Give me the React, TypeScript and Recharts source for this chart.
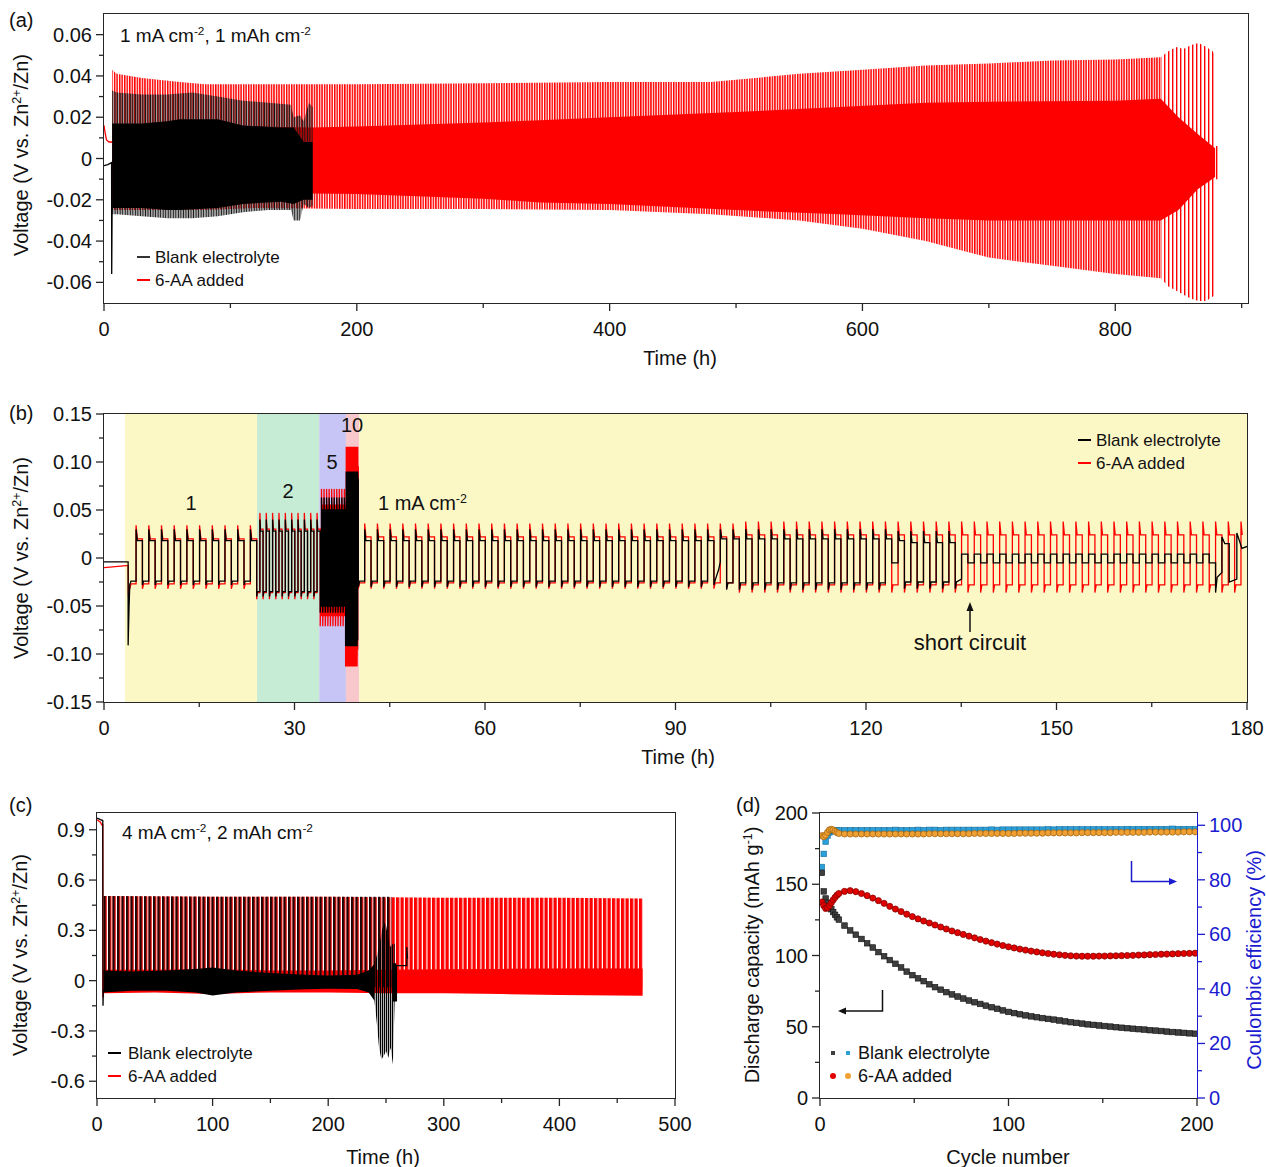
import React from "react";
import { ComposedChart, Area, Line, Scatter, XAxis, YAxis, ReferenceArea } from "recharts";

const FONT = "'Liberation Sans', Arial, Helvetica, sans-serif";
const AXIS = "#262626";
const BLUE = "#1b1bd0";
const RED = "#ff0000";

// ---------- panel (a): 1 mA cm-2, 1 mAh cm-2 (envelopes) ----------
const aRedOuterT = [6.5, 10, 30, 60, 80, 120, 200, 300, 400, 480, 550, 600, 650, 700, 750, 800, 836];
const aRedOuterHi = [0.043, 0.041, 0.039, 0.037, 0.036, 0.036, 0.036, 0.0365, 0.037, 0.037, 0.041, 0.043, 0.045, 0.046, 0.0475, 0.048, 0.049];
const aRedOuterLo = [-0.025, -0.025, -0.025, -0.025, -0.025, -0.024, -0.0245, -0.0245, -0.025, -0.027, -0.03, -0.034, -0.04, -0.048, -0.052, -0.056, -0.058];

const aRedEndT = [836, 842, 848, 854, 860, 866, 872, 877, 879, 879.6, 882];
const aRedEndHi = [0.049, 0.052, 0.054, 0.053, 0.055, 0.056, 0.054, 0.052, 0.05, 0.006, 0.006];
const aRedEndLo = [-0.058, -0.062, -0.064, -0.066, -0.068, -0.069, -0.069, -0.067, -0.066, -0.01, -0.01];

const aRedInnerT = [6.5, 30, 80, 165, 200, 300, 345, 400, 500, 582, 650, 700, 800, 836, 850, 865, 879];
const aRedInnerHi = [0.016, 0.016, 0.016, 0.015, 0.0155, 0.0175, 0.0185, 0.02, 0.0225, 0.025, 0.027, 0.0275, 0.028, 0.029, 0.02, 0.012, 0.005];
const aRedInnerLo = [-0.018, -0.018, -0.018, -0.017, -0.0172, -0.0195, -0.0213, -0.022, -0.025, -0.027, -0.029, -0.03, -0.03, -0.03, -0.025, -0.015, -0.009];

const aRedStartT = [0, 1, 2, 4, 6.5];
const aRedStartV = [0.016, 0.012, 0.009, 0.008, 0.008];

const aBlankOuterT = [6.5, 10, 30, 50, 70, 90, 110, 130, 148, 150, 155, 158, 162, 165];
const aBlankOuterHi = [0.033, 0.032, 0.031, 0.031, 0.032, 0.03, 0.028, 0.027, 0.026, 0.02, 0.021, 0.018, 0.027, 0.025];
const aBlankOuterLo = [-0.027, -0.027, -0.028, -0.029, -0.029, -0.028, -0.026, -0.025, -0.025, -0.03, -0.03, -0.022, -0.024, -0.023];

const aBlankInnerT = [6.5, 30, 50, 60, 90, 110, 140, 150, 158, 165];
const aBlankInnerHi = [0.017, 0.017, 0.018, 0.019, 0.019, 0.016, 0.015, 0.015, 0.008, 0.008];
const aBlankInnerLo = [-0.024, -0.024, -0.025, -0.025, -0.024, -0.022, -0.021, -0.022, -0.02, -0.02];

const aBlankStartT = [0, 3, 6, 6.1, 6.4, 6.5];
const aBlankStartV = [-0.0035, -0.003, -0.002, -0.056, -0.025, -0.024];

const aTicksX = [0, 100, 200, 300, 400, 500, 600, 700, 800, 900];
const aMajorX = [0, 200, 400, 600, 800];
const aTicksY = [-0.06, -0.05, -0.04, -0.03, -0.02, -0.01, 0, 0.01, 0.02, 0.03, 0.04, 0.05, 0.06];
const aMajorY = [-0.06, -0.04, -0.02, 0, 0.02, 0.04, 0.06];

// ---------- panel (b): rate test, cycles per regime ----------
// cyc: [from, to, period, lowSpike, lowPlateau, highSpike, highPlateau]
type Piece = { pts?: number[][]; cyc?: number[] };

const bRedPieces: Piece[] = [
  { pts: [[0, -0.01], [3.5, -0.008], [3.8, -0.008], [3.85, -0.04], [4.05, -0.03]] },
  { cyc: [4.05, 24.05, 2, -0.032, -0.027, 0.034, 0.02] },
  { cyc: [24.05, 34.05, 1, -0.043, -0.036, 0.047, 0.03] },
  { cyc: [34.05, 38.05, 0.4, -0.071, -0.06, 0.072, 0.055] },
  { cyc: [38.05, 40.05, 0.2, -0.113, -0.095, 0.116, 0.095] },
  { cyc: [40.05, 100.05, 2, -0.032, -0.026, 0.036, 0.022] },
  { cyc: [100.05, 180.05, 2, -0.036, -0.028, 0.038, 0.024] },
];

const bBlankPieces: Piece[] = [
  { pts: [[0, -0.004], [3.8, -0.004], [3.8, -0.091], [3.95, -0.05], [4.05, -0.03]] },
  { cyc: [4.05, 24.05, 2, -0.028, -0.024, 0.03, 0.018] },
  { cyc: [24.05, 34.05, 1, -0.04, -0.035, 0.04, 0.028] },
  { cyc: [34.05, 38.05, 0.4, -0.057, -0.05, 0.063, 0.05] },
  { cyc: [38.05, 40.05, 0.2, -0.092, -0.085, 0.09, 0.082] },
  { cyc: [40.05, 96.05, 2, -0.03, -0.024, 0.03, 0.018] },
  { pts: [[96.05, -0.028], [96.3, -0.022], [96.8, -0.012], [97.05, -0.004], [97.05, 0.03], [97.3, 0.02], [98.05, 0.02]] },
  { cyc: [98.05, 124.05, 2, -0.033, -0.026, 0.03, 0.02] },
  { pts: [[124.05, -0.005], [125.05, -0.005], [125.05, 0.028], [125.3, 0.018], [126.05, 0.018]] },
  { cyc: [126.05, 134.05, 2, -0.032, -0.025, 0.028, 0.016] },
  { pts: [[134.05, -0.032], [134.25, -0.025], [135.05, -0.022], [135.05, 0.004], [136.05, 0.004]] },
  { cyc: [136.05, 174.05, 2, -0.005, -0.005, 0.004, 0.004] },
  { pts: [[174.05, -0.005], [175.05, -0.005], [175.05, -0.036], [175.3, -0.02], [176.05, -0.015], [176.05, 0.022], [176.5, 0.015], [177.2, 0.015], [177.2, -0.025], [178.4, -0.022], [178.4, 0.026], [179.2, 0.01], [180, 0.012]] },
];

const bBandStart = [3.3, 24.1, 33.9, 38.1, 40.2];
const bBandEnd = [24.1, 33.9, 38.1, 40.2, 180];
const bBandColor = ["#fcf8c6", "#c6ecd6", "#c7c5f6", "#f8c7cb", "#fcf8c6"];

const bTicksX = [0, 15, 30, 45, 60, 75, 90, 105, 120, 135, 150, 165, 180];
const bMajorX = [0, 30, 60, 90, 120, 150, 180];
const bTicksY = [-0.15, -0.125, -0.1, -0.075, -0.05, -0.025, 0, 0.025, 0.05, 0.075, 0.1, 0.125, 0.15];
const bMajorY = [-0.15, -0.1, -0.05, 0, 0.05, 0.1, 0.15];

// ---------- panel (c): 4 mA cm-2, 2 mAh cm-2 ----------
const cRedOuterT = [5.5, 100, 200, 300, 400, 472];
const cRedOuterHi = [0.505, 0.5, 0.5, 0.495, 0.495, 0.49];
const cRedOuterLo = [-0.05, -0.05, -0.05, -0.05, -0.05, -0.05];

const cRedInnerT = [5.5, 50, 100, 150, 200, 250, 300, 350, 400, 472];
const cRedInnerHi = [0.065, 0.065, 0.07, 0.06, 0.06, 0.065, 0.068, 0.07, 0.072, 0.072];
const cRedInnerLo = [-0.075, -0.07, -0.08, -0.07, -0.07, -0.075, -0.075, -0.08, -0.085, -0.09];

const cBlankOuterT = [5.5, 100, 200, 255];
const cBlankOuterHi = [0.505, 0.5, 0.5, 0.5];
const cBlankOuterLo = [-0.04, -0.04, -0.04, -0.04];

const cBlankInnerT = [5.5, 30, 60, 85, 100, 120, 150, 180, 200, 225, 235, 240];
const cBlankInnerHi = [0.06, 0.055, 0.06, 0.07, 0.078, 0.06, 0.045, 0.035, 0.03, 0.035, 0.06, 0.1];
const cBlankInnerLo = [-0.07, -0.06, -0.06, -0.07, -0.088, -0.07, -0.06, -0.052, -0.048, -0.05, -0.07, -0.12];

const cBlankFailT = [240, 242, 244, 246, 248, 250, 252, 254, 256, 257.5];
const cBlankFailHi = [0.1, 0.15, 0.2, 0.28, 0.35, 0.33, 0.25, 0.2, 0.22, 0.22];
const cBlankFailLo = [-0.12, -0.25, -0.4, -0.47, -0.45, -0.42, -0.46, -0.4, -0.5, -0.12];

const cBlankEndT = [256, 256.5, 256.5, 257.5, 257.5, 258.3, 258.3, 259, 259, 268, 268, 268.6];
const cBlankEndV = [0.1, 0.1, -0.12, -0.12, 0.1, 0.1, -0.12, -0.12, 0.09, 0.09, 0.2, 0.13];

const cRedStartT = [0, 3, 4, 5, 5.1, 5.5];
const cRedStartV = [0.96, 0.945, 0.93, 0.93, -0.1, -0.05];
const cBlankStartT = [0, 3, 5, 5.2, 5.5];
const cBlankStartV = [0.97, 0.96, 0.955, -0.15, -0.05];

const cTicksX = [0, 50, 100, 150, 200, 250, 300, 350, 400, 450, 500];
const cMajorX = [0, 100, 200, 300, 400, 500];
const cTicksY = [-0.6, -0.45, -0.3, -0.15, 0, 0.15, 0.3, 0.45, 0.6, 0.75, 0.9];
const cMajorY = [-0.6, -0.3, 0, 0.3, 0.6, 0.9];

// ---------- panel (d): capacity and coulombic efficiency ----------
const dCycles = [1, 2, 3, 4, 5, 6, 7, 8, 9, 10, 13, 16, 19, 22, 25, 28, 31, 34, 37, 40, 43, 46, 49,
  52, 55, 58, 61, 64, 67, 70, 73, 76, 79, 82, 85, 88, 91, 94, 97, 100,
  103, 106, 109, 112, 115, 118, 121, 124, 127, 130, 133, 136, 139, 142, 145, 148, 151, 154, 157, 160,
  163, 166, 169, 172, 175, 178, 181, 184, 187, 190, 193, 196, 199];
const dBlankCap = [158, 145, 140, 137, 134.5, 132.5, 130.5, 128.5, 126.8, 125.2, 121, 117.6, 114.6, 111.6, 108.6, 105.6, 102.4, 99.5, 96.8, 94.2, 91.6, 88.7, 86.2,
  84, 82, 79.8, 77.8, 76, 74.3, 72.7, 71.2, 69.8, 68.4, 67.2, 66, 64.8, 63.7, 62.6, 61.5, 60.4,
  59.6, 58.8, 58, 57.3, 56.7, 56.1, 55.5, 55, 54.4, 53.8, 53.2, 52.7, 52.2, 51.7, 51.3, 50.9, 50.5, 50.1, 49.7, 49.3,
  49, 48.6, 48.3, 48, 47.6, 47.3, 47, 46.6, 46.3, 46, 45.7, 45.4, 45.1];
const dRedCap = [137.5, 135, 133, 133.5, 135, 137, 139, 140.8, 142.3, 143.5, 145, 145.5, 144.8, 143.5, 142, 140.3, 138.5, 136.6, 134.5, 132.6, 130.8, 129, 127.3,
  125.7, 124.2, 122.8, 121.4, 120, 118.6, 117.2, 116, 114.8, 113.6, 112.4, 111.2, 110.1, 109, 108, 107, 106.1,
  105.3, 104.5, 103.8, 103.1, 102.5, 101.9, 101.4, 100.9, 100.5, 100.1, 99.8, 99.6, 99.5, 99.5, 99.5, 99.6, 99.6, 99.7, 99.8, 99.9,
  100, 100.1, 100.3, 100.4, 100.6, 100.7, 100.9, 101, 101.1, 101.3, 101.4, 101.5, 101.6];
const dBlankCE = [84.7, 89.5, 94, 96.2, 97.4, 97.8, 98, 98, 98.1, 98.1, 98.2, 98.2, 98.2, 98.2, 98.2, 98.2, 98.2, 98.2, 98.2, 98.3, 98.2, 98.2, 98.2,
  98.3, 98.2, 98.3, 98.3, 98.2, 98.3, 98.3, 98.3, 98.3, 98.3, 98.3, 98.3, 98.3, 98.4, 98.3, 98.4, 98.4,
  98.4, 98.4, 98.4, 98.4, 98.4, 98.4, 98.5, 98.4, 98.5, 98.5, 98.5, 98.5, 98.5, 98.5, 98.5, 98.5, 98.5, 98.5, 98.5, 98.5,
  98.6, 98.5, 98.6, 98.6, 98.6, 98.6, 98.6, 98.6, 98.7, 98.6, 98.6, 98.6, 98.6];
const dRedCE = [96.2, 95.8, 96.4, 97.4, 98.3, 98.5, 98.3, 97.8, 97.3, 97, 96.8, 96.8, 96.8, 96.8, 96.8, 96.8, 96.8, 96.8, 96.8, 96.8, 96.8, 96.8, 96.8,
  96.8, 96.8, 96.9, 96.9, 96.9, 96.9, 96.9, 96.9, 96.9, 96.9, 97, 97, 97, 97, 97, 97, 97,
  97, 97.1, 97.1, 97.1, 97.1, 97.1, 97.2, 97.2, 97.2, 97.2, 97.2, 97.2, 97.3, 97.3, 97.3, 97.3, 97.3, 97.3, 97.4, 97.4,
  97.4, 97.4, 97.4, 97.4, 97.5, 97.5, 97.5, 97.5, 97.5, 97.5, 97.6, 97.6, 97.6];

const dTicksX = [0, 50, 100, 150, 200];
const dMajorX = [0, 100, 200];
const dTicksL = [0, 25, 50, 75, 100, 125, 150, 175, 200];
const dMajorL = [0, 50, 100, 150, 200];
const dTicksR = [0, 10, 20, 30, 40, 50, 60, 70, 80, 90, 100];
const dMajorR = [0, 20, 40, 60, 80, 100];

// ---------- helpers ----------
const toRange = (ts: number[], lo: number[], hi: number[]) => ts.map((t, i) => ({ t, v: [lo[i], hi[i]] }));
const toPts = (ts: number[], vs: number[]) => ts.map((t, i) => ({ t, v: vs[i] }));

function expand(pieces: Piece[], tMax: number) {
  const out: { t: number; v: number }[] = [];
  for (const p of pieces) {
    if (p.pts) p.pts.forEach(([t, v]) => out.push({ t, v }));
    if (p.cyc) {
      const [from, to, P, ls, lp, hs, hp] = p.cyc;
      const n = Math.round((to - from) / P);
      for (let k = 0; k < n; k++) {
        const t0 = from + k * P;
        out.push(
          { t: t0, v: ls }, { t: t0 + 0.1 * P, v: lp }, { t: t0 + 0.5 * P, v: lp },
          { t: t0 + 0.5 * P, v: hs }, { t: t0 + 0.6 * P, v: hp }, { t: t0 + P, v: hp }
        );
      }
    }
  }
  return out.filter((d) => d.t <= tMax);
}

const isMajor = (majors: number[], v: number) => majors.some((m) => Math.abs(m - v) < 1e-9);

function xTick(bottom: number, majors: number[], fmt: (v: number) => string) {
  return (props: any) => {
    const { x, payload } = props;
    const major = isMajor(majors, payload.value);
    return (
      <g>
        <line x1={x} x2={x} y1={bottom} y2={bottom + (major ? 8 : 5)} stroke={AXIS} strokeWidth={1.3} />
        {major && (
          <text x={x} y={bottom + 26} textAnchor="middle" dominantBaseline="central" fontSize={20} fontFamily={FONT} fill="#111">
            {fmt(payload.value)}
          </text>
        )}
      </g>
    );
  };
}

function yTick(edge: number, majors: number[], fmt: (v: number) => string, side: "left" | "right" = "left", color = AXIS) {
  const dir = side === "left" ? -1 : 1;
  return (props: any) => {
    const { y, payload } = props;
    const major = isMajor(majors, payload.value);
    return (
      <g>
        <line x1={edge} x2={edge + dir * (major ? 8 : 5)} y1={y} y2={y} stroke={color} strokeWidth={1.3} />
        {major && (
          <text x={edge + dir * 12} y={y} textAnchor={side === "left" ? "end" : "start"} dominantBaseline="central" fontSize={20} fontFamily={FONT} fill={side === "left" ? "#111" : color}>
            {fmt(payload.value)}
          </text>
        )}
      </g>
    );
  };
}

const fmt2 = (v: number) => (Math.abs(v) < 1e-9 ? "0" : v.toFixed(2));
const fmt1 = (v: number) => (Math.abs(v) < 1e-9 ? "0" : v.toFixed(1));
const fmt0 = (v: number) => String(Math.round(v));

const Sup = ({ children }: { children: React.ReactNode }) => (
  <span style={{ fontSize: "0.62em", position: "relative", top: "-0.6em" }}>{children}</span>
);

function Txt(props: { x: number; y: number; size?: number; color?: string; mode?: "left" | "center" | "rot"; children: React.ReactNode }) {
  const { x, y, size = 20, color = "#111", mode = "left", children } = props;
  const transform = mode === "rot" ? "translate(-50%,-50%) rotate(-90deg)" : mode === "center" ? "translate(-50%,-50%)" : "translateY(-50%)";
  return (
    <div style={{ position: "absolute", left: x, top: y, transform, fontSize: size, color, whiteSpace: "nowrap", lineHeight: 1, fontFamily: FONT }}>
      {children}
    </div>
  );
}

function Frame(props: { x: number; y: number; w: number; h: number; right?: string }) {
  return (
    <div
      style={{
        position: "absolute", left: props.x - 0.75, top: props.y - 0.75, width: props.w + 1.5, height: props.h + 1.5,
        boxSizing: "border-box", border: `1.5px solid ${AXIS}`, borderRightColor: props.right || AXIS, pointerEvents: "none",
      }}
    />
  );
}

const LegendLine = ({ x, y, color }: { x: number; y: number; color: string }) => (
  <div style={{ position: "absolute", left: x, top: y - 0.75, width: 13, height: 1.5, background: color }} />
);

const VoltTitle = () => (
  <span>
    Voltage (V vs. Zn<Sup>2+</Sup>/Zn)
  </span>
);

const square = (fill: string, stroke: string) => (p: any) =>
  <rect x={p.cx - 2.8} y={p.cy - 2.8} width={5.6} height={5.6} fill={fill} stroke={stroke} strokeWidth={0.6} />;
const circle = (fill: string, stroke: string) => (p: any) =>
  <circle cx={p.cx} cy={p.cy} r={3.1} fill={fill} stroke={stroke} strokeWidth={0.7} />;

export default function App() {
  const bRed = expand(bRedPieces, 180);
  const bBlank = expand(bBlankPieces, 180);
  const dC = (vals: number[]) => dCycles.map((c, i) => ({ c, v: vals[i] }));

  return (
    <div style={{ position: "absolute", left: 0, top: 0, width: 1266, height: 1167, background: "#fff", overflow: "hidden", fontFamily: FONT }}>
      {/* (a) */}
      <div style={{ position: "absolute", left: 0, top: 0 }}>
        <ComposedChart width={1266} height={380} margin={{ top: 14, right: 18, bottom: 47, left: 44 }}>
          <defs>
            <pattern id="aRedS" patternUnits="userSpaceOnUse" width={2.53} height={10}>
              <rect x={0} y={0} width={1.5} height={10} fill={RED} />
            </pattern>
            <pattern id="aRedSparse" patternUnits="userSpaceOnUse" width={4} height={10}>
              <rect x={0} y={0} width={1.4} height={10} fill={RED} />
            </pattern>
            <pattern id="aBlkS" patternUnits="userSpaceOnUse" width={2.53} height={10}>
              <rect x={0.5} y={0} width={1.5} height={10} fill="#151515" />
            </pattern>
          </defs>
          <XAxis dataKey="t" type="number" domain={[0, 905]} ticks={aTicksX} interval={0} allowDataOverflow axisLine={false} tickLine={false} height={30} tick={xTick(303, aMajorX, fmt0)} />
          <YAxis type="number" domain={[-0.07, 0.07]} ticks={aTicksY} interval={0} allowDataOverflow axisLine={false} tickLine={false} width={60} tick={yTick(104, aMajorY, fmt2)} />
          <Area data={toRange(aRedOuterT, aRedOuterLo, aRedOuterHi)} dataKey="v" type="linear" stroke="none" fill="url(#aRedS)" fillOpacity={1} isAnimationActive={false} activeDot={false} />
          <Area data={toRange(aRedEndT, aRedEndLo, aRedEndHi)} dataKey="v" type="linear" stroke="none" fill="url(#aRedSparse)" fillOpacity={1} isAnimationActive={false} activeDot={false} />
          <Area data={toRange(aRedInnerT, aRedInnerLo, aRedInnerHi)} dataKey="v" type="linear" stroke="none" fill={RED} fillOpacity={1} isAnimationActive={false} activeDot={false} />
          <Line data={toPts(aRedStartT, aRedStartV)} dataKey="v" type="linear" stroke={RED} strokeWidth={1.3} dot={false} isAnimationActive={false} />
          <Area data={toRange(aBlankOuterT, aBlankOuterLo, aBlankOuterHi)} dataKey="v" type="linear" stroke="none" fill="url(#aBlkS)" fillOpacity={1} isAnimationActive={false} activeDot={false} />
          <Area data={toRange(aBlankInnerT, aBlankInnerLo, aBlankInnerHi)} dataKey="v" type="linear" stroke="none" fill="#000" fillOpacity={1} isAnimationActive={false} activeDot={false} />
          <Line data={toPts(aBlankStartT, aBlankStartV)} dataKey="v" type="linear" stroke="#000" strokeWidth={1.3} dot={false} isAnimationActive={false} />
        </ComposedChart>
      </div>

      {/* (b) */}
      <div style={{ position: "absolute", left: 0, top: 390 }}>
        <ComposedChart width={1266} height={380} margin={{ top: 24, right: 19, bottom: 38, left: 44 }}>
          <XAxis dataKey="t" type="number" domain={[0, 180]} ticks={bTicksX} interval={0} allowDataOverflow axisLine={false} tickLine={false} height={30} tick={xTick(312, bMajorX, fmt0)} />
          <YAxis type="number" domain={[-0.15, 0.15]} ticks={bTicksY} interval={0} allowDataOverflow axisLine={false} tickLine={false} width={60} tick={yTick(104, bMajorY, fmt2)} />
          {bBandStart.map((s, i) => (
            <ReferenceArea key={i} x1={s} x2={bBandEnd[i]} y1={-0.15} y2={0.15} fill={bBandColor[i]} fillOpacity={1} stroke="none" />
          ))}
          <Line data={bRed} dataKey="v" type="linear" stroke={RED} strokeWidth={1.3} dot={false} isAnimationActive={false} />
          <Line data={bBlank} dataKey="v" type="linear" stroke="#000" strokeWidth={1.3} dot={false} isAnimationActive={false} />
        </ComposedChart>
      </div>

      {/* (c) */}
      <div style={{ position: "absolute", left: 0, top: 780 }}>
        <ComposedChart width={700} height={387} margin={{ top: 33, right: 25, bottom: 39, left: 37 }}>
          <defs>
            <pattern id="cRedS" patternUnits="userSpaceOnUse" width={4.5} height={10}>
              <rect x={0} y={0} width={3.3} height={10} fill={RED} />
            </pattern>
            <pattern id="cBlkS" patternUnits="userSpaceOnUse" width={4.5} height={10}>
              <rect x={0} y={0} width={2.2} height={10} fill="#1a0808" />
            </pattern>
            <pattern id="cBlkDense" patternUnits="userSpaceOnUse" width={2} height={10}>
              <rect x={0} y={0} width={1.3} height={10} fill="#000" />
            </pattern>
          </defs>
          <XAxis dataKey="t" type="number" domain={[0, 500]} ticks={cTicksX} interval={0} allowDataOverflow axisLine={false} tickLine={false} height={30} tick={xTick(318, cMajorX, fmt0)} />
          <YAxis type="number" domain={[-0.7, 1.0]} ticks={cTicksY} interval={0} allowDataOverflow axisLine={false} tickLine={false} width={60} tick={yTick(97, cMajorY, fmt1)} />
          <Area data={toRange(cRedOuterT, cRedOuterLo, cRedOuterHi)} dataKey="v" type="linear" stroke="none" fill="url(#cRedS)" fillOpacity={1} isAnimationActive={false} activeDot={false} />
          <Area data={toRange(cRedInnerT, cRedInnerLo, cRedInnerHi)} dataKey="v" type="linear" stroke="none" fill={RED} fillOpacity={1} isAnimationActive={false} activeDot={false} />
          <Line data={toPts(cRedStartT, cRedStartV)} dataKey="v" type="linear" stroke={RED} strokeWidth={1.3} dot={false} isAnimationActive={false} />
          <Area data={toRange(cBlankOuterT, cBlankOuterLo, cBlankOuterHi)} dataKey="v" type="linear" stroke="none" fill="url(#cBlkS)" fillOpacity={1} isAnimationActive={false} activeDot={false} />
          <Area data={toRange(cBlankInnerT, cBlankInnerLo, cBlankInnerHi)} dataKey="v" type="linear" stroke="none" fill="#000" fillOpacity={1} isAnimationActive={false} activeDot={false} />
          <Area data={toRange(cBlankFailT, cBlankFailLo, cBlankFailHi)} dataKey="v" type="linear" stroke="none" fill="url(#cBlkDense)" fillOpacity={1} isAnimationActive={false} activeDot={false} />
          <Line data={toPts(cBlankStartT, cBlankStartV)} dataKey="v" type="linear" stroke="#000" strokeWidth={1.3} dot={false} isAnimationActive={false} />
          <Line data={toPts(cBlankEndT, cBlankEndV)} dataKey="v" type="linear" stroke="#000" strokeWidth={1.3} dot={false} isAnimationActive={false} />
        </ComposedChart>
      </div>

      {/* (d) */}
      <div style={{ position: "absolute", left: 700, top: 780 }}>
        <ComposedChart width={566} height={387} margin={{ top: 33, right: 9, bottom: 39, left: 60 }}>
          <XAxis dataKey="c" type="number" domain={[0, 200]} ticks={dTicksX} interval={0} allowDataOverflow axisLine={false} tickLine={false} height={30} tick={xTick(318, dMajorX, fmt0)} />
          <YAxis yAxisId="L" dataKey="v" type="number" domain={[0, 200]} ticks={dTicksL} interval={0} allowDataOverflow axisLine={false} tickLine={false} width={60} tick={yTick(120, dMajorL, fmt0)} />
          <YAxis yAxisId="R" dataKey="v" orientation="right" type="number" domain={[0, 104.5]} ticks={dTicksR} interval={0} allowDataOverflow axisLine={false} tickLine={false} width={60} tick={yTick(497, dMajorR, fmt0, "right", BLUE)} />
          <Scatter yAxisId="R" data={dC(dBlankCE)} dataKey="v" shape={square("#2a9fda", "#1a6f9a")} isAnimationActive={false} />
          <Scatter yAxisId="R" data={dC(dRedCE)} dataKey="v" shape={circle("#f0a032", "#9a6010")} isAnimationActive={false} />
          <Scatter yAxisId="L" data={dC(dBlankCap)} dataKey="v" shape={square("#3f3f3f", "#111")} isAnimationActive={false} />
          <Scatter yAxisId="L" data={dC(dRedCap)} dataKey="v" shape={circle("#e00000", "#7a0000")} isAnimationActive={false} />
        </ComposedChart>
      </div>

      {/* frames */}
      <Frame x={104} y={14} w={1144} h={289} />
      <Frame x={104} y={414} w={1143} h={288} />
      <Frame x={97} y={813} w={578} h={285} />
      <Frame x={820} y={813} w={377} h={285} right={BLUE} />

      {/* panel letters */}
      <Txt x={9} y={20}>(a)</Txt>
      <Txt x={9} y={413}>(b)</Txt>
      <Txt x={9} y={805}>(c)</Txt>
      <Txt x={736} y={805}>(d)</Txt>

      {/* (a) texts */}
      <Txt x={120} y={35} size={19}>1 mA cm<Sup>-2</Sup>, 1 mAh cm<Sup>-2</Sup></Txt>
      <LegendLine x={137} y={257} color="#333" />
      <Txt x={155} y={257} size={17}>Blank electrolyte</Txt>
      <LegendLine x={137} y={280} color={RED} />
      <Txt x={155} y={280} size={17}>6-AA added</Txt>
      <Txt x={21} y={155} mode="rot"><VoltTitle /></Txt>
      <Txt x={680} y={358} mode="center">Time (h)</Txt>

      {/* (b) texts */}
      <Txt x={21} y={558} mode="rot"><VoltTitle /></Txt>
      <Txt x={678} y={757} mode="center">Time (h)</Txt>
      <Txt x={191} y={503} mode="center">1</Txt>
      <Txt x={288} y={491} mode="center">2</Txt>
      <Txt x={332} y={462} mode="center">5</Txt>
      <Txt x={352} y={425} mode="center">10</Txt>
      <Txt x={378} y={503}>1 mA cm<Sup>-2</Sup></Txt>
      <LegendLine x={1078} y={440} color="#000" />
      <Txt x={1096} y={440} size={17}>Blank electrolyte</Txt>
      <LegendLine x={1078} y={463} color={RED} />
      <Txt x={1096} y={463} size={17}>6-AA added</Txt>
      <Txt x={970} y={643} size={22} mode="center">short circuit</Txt>

      {/* (c) texts */}
      <Txt x={20} y={955} mode="rot"><VoltTitle /></Txt>
      <Txt x={383} y={1157} mode="center">Time (h)</Txt>
      <Txt x={122} y={832} size={19}>4 mA cm<Sup>-2</Sup>, 2 mAh cm<Sup>-2</Sup></Txt>
      <LegendLine x={108} y={1053} color="#000" />
      <Txt x={128} y={1053} size={17}>Blank electrolyte</Txt>
      <LegendLine x={108} y={1076} color={RED} />
      <Txt x={128} y={1076} size={17}>6-AA added</Txt>

      {/* (d) texts */}
      <Txt x={752} y={955} mode="rot">Discharge capacity (mAh g<Sup>-1</Sup>)</Txt>
      <Txt x={1254} y={960} mode="rot" color={BLUE}>Coulombic efficiency (%)</Txt>
      <Txt x={1008} y={1157} mode="center">Cycle number</Txt>
      <div style={{ position: "absolute", left: 830.6, top: 1050.6, width: 4.8, height: 4.8, background: "#3f3f3f" }} />
      <div style={{ position: "absolute", left: 845.6, top: 1050.6, width: 4.8, height: 4.8, background: "#2a9fda" }} />
      <Txt x={858} y={1053} size={18}>Blank electrolyte</Txt>
      <div style={{ position: "absolute", left: 830, top: 1073, width: 6, height: 6, borderRadius: 3, background: "#e00000" }} />
      <div style={{ position: "absolute", left: 845, top: 1073, width: 6, height: 6, borderRadius: 3, background: "#f0a032" }} />
      <Txt x={858} y={1076} size={18}>6-AA added</Txt>

      {/* arrows */}
      <svg width={1266} height={1167} style={{ position: "absolute", left: 0, top: 0, pointerEvents: "none" }}>
        <line x1={970} y1={632} x2={970} y2={608} stroke="#111" strokeWidth={1.5} />
        <polygon points="970,602 966.5,611 973.5,611" fill="#111" />
        <polyline points="882.5,990 882.5,1011 844,1011" fill="none" stroke="#111" strokeWidth={1.5} />
        <polygon points="838,1011 846,1007.5 846,1014.5" fill="#111" />
        <polyline points="1131.5,861 1131.5,881.5 1171,881.5" fill="none" stroke={BLUE} strokeWidth={1.5} />
        <polygon points="1177,881.5 1169,878 1169,885" fill={BLUE} />
      </svg>
    </div>
  );
}
